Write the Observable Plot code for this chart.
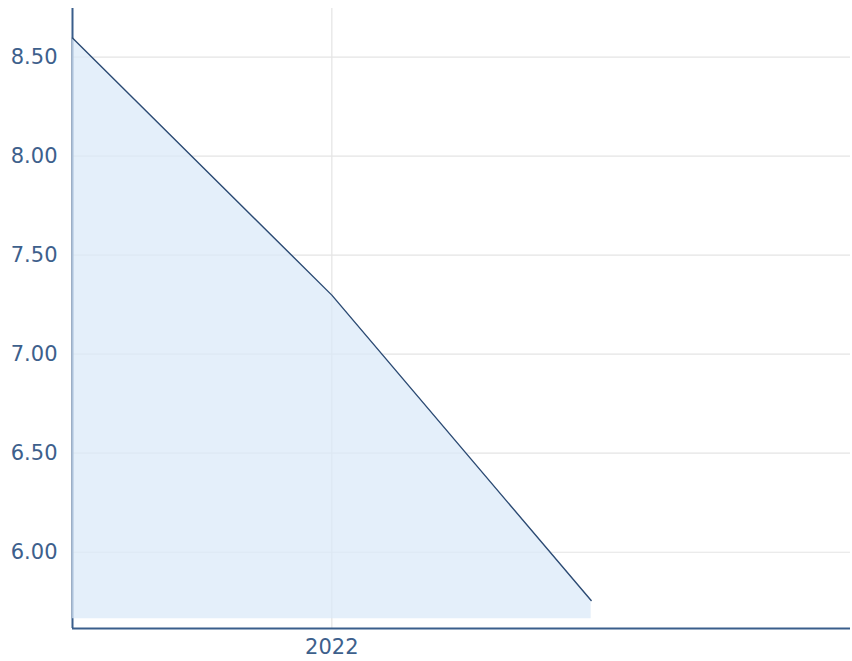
<!DOCTYPE html>
<html>
<head>
<meta charset="utf-8">
<script src="https://cdn.jsdelivr.net/npm/d3@7"></script>
<script src="https://cdn.jsdelivr.net/npm/@observablehq/plot@0.6"></script>
<style>
  html, body { margin: 0; padding: 0; background: #ffffff; }
  #chart svg { display: block; }
</style>
</head>
<body>
<div id="chart"></div>
<script>
// Data
const periods = [2021.5, 2022, 2022.5];
const values = [8.596, 7.298, 5.756];
const areaBase = 5.664;
const xTickValues = [2022];
const xTickLabels = ["2022"];
const yTickValues = [6.0, 6.5, 7.0, 7.5, 8.0, 8.5];
const xDomain = [2021.5, 2023];
const yDomain = [5.615, 8.745];

const data = periods.map((p, i) => ({period: p, value: values[i]}));

const axisColor = "#3a5e8b";
const textColor = "#3d608c";

const chart = Plot.plot({
  width: 852,
  height: 661,
  marginLeft: 72,
  marginRight: 2,
  marginTop: 8,
  marginBottom: 33,
  style: {
    fontFamily: "'DejaVu Sans', sans-serif",
    fontSize: "21px",
    background: "#ffffff",
    color: textColor
  },
  x: {domain: xDomain, label: null},
  y: {domain: yDomain, label: null},
  marks: [
    Plot.gridY(yTickValues, {stroke: "#e4e4e4", strokeOpacity: 1, strokeWidth: 1.2}),
    Plot.gridX(xTickValues, {stroke: "#e4e4e4", strokeOpacity: 1, strokeWidth: 1.2}),
    Plot.ruleX([xDomain[0]], {stroke: axisColor, strokeWidth: 2}),
    Plot.ruleY([yDomain[0]], {stroke: axisColor, strokeWidth: 2}),
    Plot.areaY(data, {x: "period", y1: () => areaBase, y2: "value", fill: "#d9e9f8", fillOpacity: 0.72}),
    Plot.lineY(data, {x: "period", y: "value", stroke: "#2b4a73", strokeWidth: 1.4}),
    Plot.axisY(yTickValues, {tickSize: 0, tickPadding: 15, tickFormat: d3.format(".2f"), fill: textColor, label: null}),
    Plot.axisX(xTickValues, {tickSize: 0, tickPadding: 11, tickFormat: (d, i) => xTickLabels[i], fill: textColor, label: null})
  ]
});

document.getElementById("chart").append(chart);
</script>
</body>
</html>
